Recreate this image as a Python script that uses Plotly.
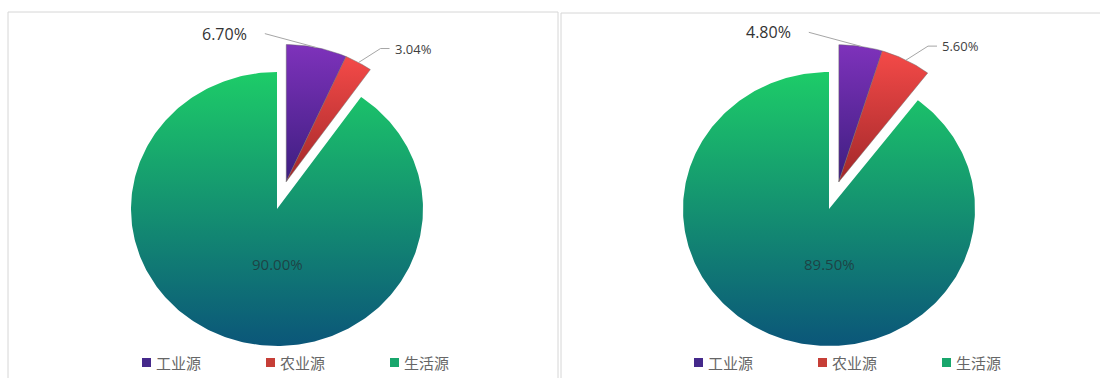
import math
import plotly.graph_objects as go

# Pollution source shares (%) for the two pies
categories = ["工业源", "农业源", "生活源"]
shares_left = [6.70, 3.04, 90.00]
shares_right = [4.80, 5.60, 89.50]

# ---- drawing configuration -------------------------------------------------
W, H = 1100, 378
RX, RY = 146, 137          # pie radii in pixels (slightly wider than tall)
PULL = 0.21                # explode distance of the small slices (in radii)
N_PULLED = 2               # the first two slices are exploded together

# (bottom colour, top colour) of each slice's vertical gradient
GRADIENTS = [("#3D1E80", "#7E32BB"), ("#A2282A", "#F44A48"), ("#0B5679", "#1DCC68")]
SWATCH = ["#45298B", "#C63E37", "#18A66C"]
OUTLINE = ["rgba(105,105,105,0.6)", "rgba(105,105,105,0.6)", "rgba(0,0,0,0)"]
LABEL_SIZE = [16, 13, 15]
LABEL_COLOR = ["#333333", "#3f3f3f", "rgba(35,45,50,0.72)"]
FONT_NUM = "Open Sans, Noto Sans, sans-serif"
FONT_CJK = "Noto Sans CJK SC, Noto Sans, sans-serif"

panels = [
    dict(values=shares_left, cx=277, cy=209, px0=0, px1=550, xa="x", ya="y",
         legend_x0=142, box=(8, 12, 558)),
    dict(values=shares_right, cx=829, cy=209, px0=550, px1=1100, xa="x2", ya="y2",
         legend_x0=694, box=(561, 13, 1106)),
]
LEGEND_STEP = 124
LEGEND_Y = 362.5


def px(dx, dy):
    """Pixel offset -> axis units (y axis points up)."""
    return dx / RX, -dy / RY


fig = go.Figure()
annotations = []
shapes = []

for p in panels:
    vals = p["values"]
    total = sum(vals)
    group = sum(vals[:N_PULLED]) / total * 2 * math.pi
    bis = group / 2
    off = (PULL * math.sin(bis), PULL * math.cos(bis))
    cum = 0.0
    for i, (name, v) in enumerate(zip(categories, vals)):
        a0 = cum / total * 2 * math.pi
        a1 = (cum + v) / total * 2 * math.pi
        cum += v
        ox, oy = off if i < N_PULLED else (0.0, 0.0)
        n = max(12, int((a1 - a0) / (2 * math.pi) * 400))
        ts = [a0 + (a1 - a0) * k / n for k in range(n + 1)]
        xs = [ox] + [ox + math.sin(t) for t in ts] + [ox]
        ys = [oy] + [oy + math.cos(t) for t in ts] + [oy]
        bot, top = GRADIENTS[i]
        fig.add_trace(go.Scatter(
            x=xs, y=ys, mode="lines", fill="toself",
            fillgradient=dict(type="vertical", colorscale=[[0, bot], [1, top]]),
            line=dict(color=OUTLINE[i], width=0.8),
            name=name, showlegend=False,
            hovertemplate=f"{name}: {v:.2f}%<extra></extra>",
            xaxis=p["xa"], yaxis=p["ya"],
        ))

        mid = (a0 + a1) / 2
        mx, my = ox + math.sin(mid), oy + math.cos(mid)
        text = f"{v:.2f}%"
        font = dict(family=FONT_NUM, size=LABEL_SIZE[i], color=LABEL_COLOR[i])
        if i == 0:
            dx, dy = px(-52, -14)
            lx, ly = mx + dx, my + dy
            fig.add_trace(go.Scatter(
                x=[mx, lx], y=[my, ly], mode="lines",
                line=dict(color="#A6A6A6", width=1), hoverinfo="skip",
                showlegend=False, xaxis=p["xa"], yaxis=p["ya"]))
            annotations.append(dict(
                x=lx, y=ly, xref=p["xa"], yref=p["ya"], text=text, showarrow=False,
                xanchor="right", yanchor="middle", xshift=-16, font=font))
        elif i == 1:
            ex, ey = px(22, -14)
            fx, fy = px(31, -14)
            fig.add_trace(go.Scatter(
                x=[mx, mx + ex, mx + fx], y=[my, my + ey, my + fy], mode="lines",
                line=dict(color="#A6A6A6", width=1), hoverinfo="skip",
                showlegend=False, xaxis=p["xa"], yaxis=p["ya"]))
            annotations.append(dict(
                x=mx + fx, y=my + fy, xref=p["xa"], yref=p["ya"], text=text,
                showarrow=False, xanchor="left", yanchor="middle", xshift=3,
                font=font))
        else:
            ix, iy = px(0, 55)
            annotations.append(dict(
                x=ix, y=iy, xref=p["xa"], yref=p["ya"], text=text, showarrow=False,
                xanchor="center", yanchor="middle", font=font))

    # legend swatches and names
    for i, name in enumerate(categories):
        sx = p["legend_x0"] + i * LEGEND_STEP
        shapes.append(dict(
            type="rect", xref="paper", yref="paper",
            x0=sx / W, x1=(sx + 9) / W,
            y0=1 - (LEGEND_Y + 4.5) / H, y1=1 - (LEGEND_Y - 4.5) / H,
            fillcolor=SWATCH[i], line=dict(width=0)))
        annotations.append(dict(
            x=(sx + 12) / W, y=1 - LEGEND_Y / H, xref="paper", yref="paper",
            text=name, showarrow=False, xanchor="left", yanchor="middle",
            font=dict(family=FONT_CJK, size=15, color="#666666")))

    # panel frame
    bx0, by0, bx1 = p["box"]
    shapes.append(dict(
        type="rect", xref="paper", yref="paper",
        x0=bx0 / W, x1=bx1 / W, y0=-0.05, y1=1 - by0 / H,
        line=dict(color="#D6D6D6", width=1), fillcolor="rgba(0,0,0,0)",
        layer="below"))

axis_common = dict(visible=False, showgrid=False, zeroline=False, fixedrange=True)
layout_axes = {}
for k, p in enumerate(panels):
    sfx = "" if k == 0 else str(k + 1)
    layout_axes["xaxis" + sfx] = dict(
        axis_common,
        domain=[p["px0"] / W, p["px1"] / W],
        range=[(p["px0"] - p["cx"]) / RX, (p["px1"] - p["cx"]) / RX],
        anchor="y" + sfx,
    )
    layout_axes["yaxis" + sfx] = dict(
        axis_common,
        domain=[0, 1],
        range=[-(H - p["cy"]) / RY, p["cy"] / RY],
        anchor="x" + sfx,
    )

fig.update_layout(
    width=W, height=H,
    margin=dict(l=0, r=0, t=0, b=0),
    paper_bgcolor="white", plot_bgcolor="white",
    showlegend=False,
    annotations=annotations,
    shapes=shapes,
    **layout_axes,
)

fig.write_html("out.html")
